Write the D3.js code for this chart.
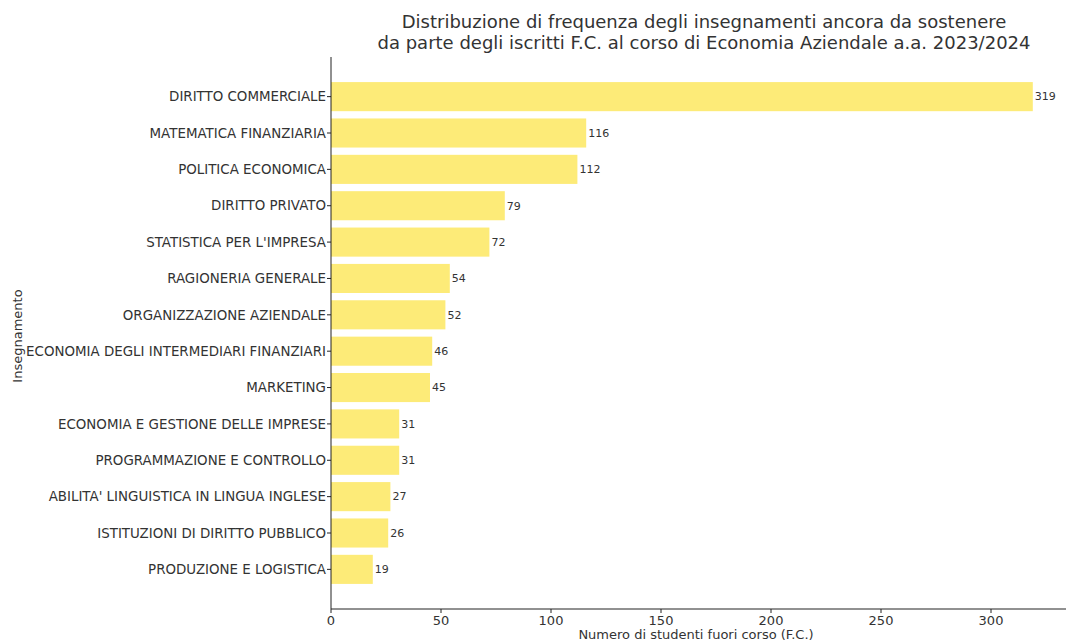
<!DOCTYPE html>
<html>
<head>
<meta charset="utf-8" />
<script src="https://d3js.org/d3.v7.min.js"></script>
<style>
  body { margin: 0; background: #fff; }
  svg { display: block; font-family: "DejaVu Sans", sans-serif; }
</style>
</head>
<body>
<svg width="1066" height="643"></svg>
<script>
  // data
  const courses = [
    "DIRITTO COMMERCIALE",
    "MATEMATICA FINANZIARIA",
    "POLITICA ECONOMICA",
    "DIRITTO PRIVATO",
    "STATISTICA PER L'IMPRESA",
    "RAGIONERIA GENERALE",
    "ORGANIZZAZIONE AZIENDALE",
    "ECONOMIA DEGLI INTERMEDIARI FINANZIARI",
    "MARKETING",
    "ECONOMIA E GESTIONE DELLE IMPRESE",
    "PROGRAMMAZIONE E CONTROLLO",
    "ABILITA' LINGUISTICA IN LINGUA INGLESE",
    "ISTITUZIONI DI DIRITTO PUBBLICO",
    "PRODUZIONE E LOGISTICA"
  ];
  const counts = [319, 116, 112, 79, 72, 54, 52, 46, 45, 31, 31, 27, 26, 19];
  const xTicks = [0, 50, 100, 150, 200, 250, 300];
  const titleLines = [
    "Distribuzione di frequenza degli insegnamenti ancora da sostenere",
    "da parte degli iscritti F.C. al corso di Economia Aziendale a.a. 2023/2024"
  ];

  const svg = d3.select("svg");
  const margin = { left: 331, top: 57, bottom: 609 };
  const textColor = "#333";

  const x = d3.scaleLinear().domain([0, 50]).range([331, 441]);

  // matplotlib-like band: unit step with 0.8 bar height and 5% margins
  const n = courses.length;
  const pad = 0.05 * (n - 1 + 0.8);
  const yIdx = d3.scaleLinear()
    .domain([-0.4 - pad, n - 1 + 0.4 + pad])
    .range([margin.top, margin.bottom]);
  const step = yIdx(1) - yIdx(0);

  const g = svg.append("g");

  g.selectAll("rect.bar")
    .data(counts)
    .join("rect")
    .attr("class", "bar")
    .attr("x", x(0))
    .attr("y", (d, i) => yIdx(i) - step * 0.4)
    .attr("width", d => x(d) - x(0))
    .attr("height", step * 0.8)
    .attr("fill", "#fdeb78");

  g.selectAll("text.val")
    .data(counts)
    .join("text")
    .attr("class", "val")
    .attr("x", d => x(d) + 2)
    .attr("y", (d, i) => yIdx(i))
    .attr("dy", "0.35em")
    .attr("font-size", 11)
    .attr("fill", textColor)
    .text(d => d);

  // y axis
  const yAxis = g.append("g");
  yAxis.append("line")
    .attr("x1", x(0)).attr("x2", x(0))
    .attr("y1", margin.top).attr("y2", margin.bottom)
    .attr("stroke", "#222").attr("stroke-width", 1);
  const yt = yAxis.selectAll("g.tick")
    .data(courses)
    .join("g")
    .attr("class", "tick")
    .attr("transform", (d, i) => `translate(${x(0)},${yIdx(i)})`);
  yt.append("line").attr("x1", -4).attr("x2", 0).attr("stroke", "#222");
  yt.append("text")
    .attr("x", -5)
    .attr("dy", "0.35em")
    .attr("text-anchor", "end")
    .attr("font-size", 13.4)
    .attr("fill", textColor)
    .text(d => d);

  // x axis
  const xAxis = g.append("g").attr("transform", `translate(0,${margin.bottom})`);
  xAxis.append("line")
    .attr("x1", x(0)).attr("x2", 1066)
    .attr("stroke", "#222");
  const xt = xAxis.selectAll("g.tick")
    .data(xTicks)
    .join("g")
    .attr("class", "tick")
    .attr("transform", d => `translate(${x(d)},0)`);
  xt.append("line").attr("y2", 4).attr("stroke", "#222");
  xt.append("text")
    .attr("y", 16)
    .attr("text-anchor", "middle")
    .attr("font-size", 13)
    .attr("fill", textColor)
    .text(d => d);

  svg.append("text")
    .attr("x", 696).attr("y", 639)
    .attr("text-anchor", "middle")
    .attr("font-size", 13)
    .attr("fill", textColor)
    .text("Numero di studenti fuori corso (F.C.)");

  svg.append("text")
    .attr("transform", "translate(22,336) rotate(-90)")
    .attr("text-anchor", "middle")
    .attr("font-size", 13)
    .attr("fill", textColor)
    .text("Insegnamento");

  svg.selectAll("text.title")
    .data(titleLines)
    .join("text")
    .attr("class", "title")
    .attr("x", 704)
    .attr("y", (d, i) => 28 + i * 21)
    .attr("text-anchor", "middle")
    .attr("font-size", 18)
    .attr("fill", textColor)
    .text(d => d);
</script>
</body>
</html>
